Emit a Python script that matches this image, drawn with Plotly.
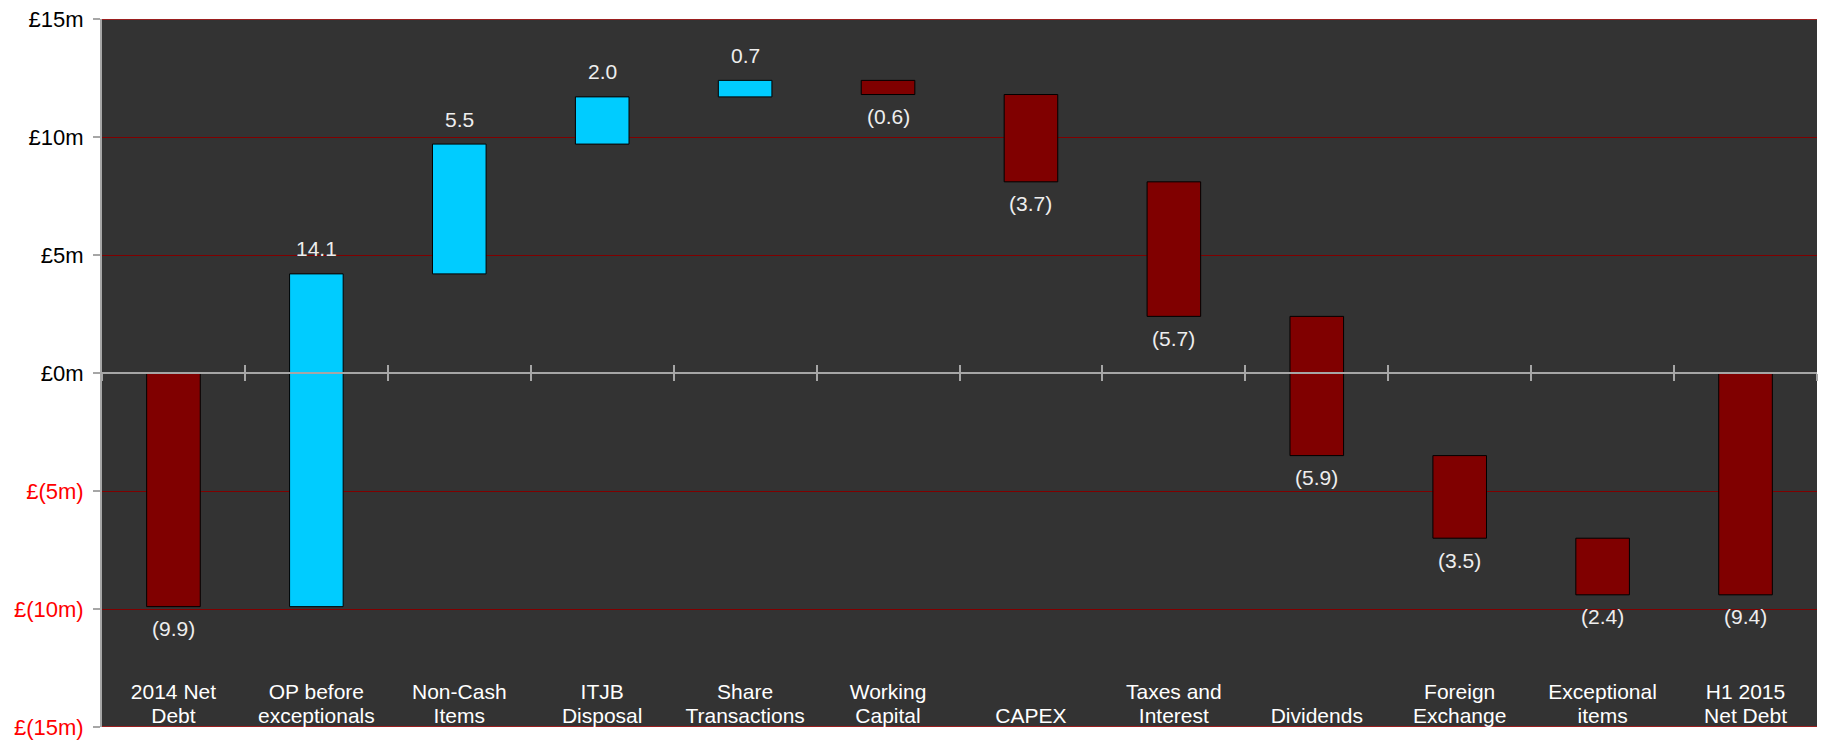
import plotly.graph_objects as go

# ---- data ----
categories = ["2014 Net Debt", "OP before exceptionals", "Non-Cash Items", "ITJB Disposal",
              "Share Transactions", "Working Capital", "CAPEX", "Taxes and Interest",
              "Dividends", "Foreign Exchange", "Exceptional items", "H1 2015 Net Debt"]
label_line1 = ["2014 Net", "OP before", "Non-Cash", "ITJB", "Share", "Working", "",
               "Taxes and", "", "Foreign", "Exceptional", "H1 2015"]
label_line2 = ["Debt", "exceptionals", "Items", "Disposal", "Transactions", "Capital", "CAPEX",
               "Interest", "Dividends", "Exchange", "items", "Net Debt"]
changes = [-9.9, 14.1, 5.5, 2.0, 0.7, -0.6, -3.7, -5.7, -5.9, -3.5, -2.4, -9.4]
is_total = [True, False, False, False, False, False, False, False, False, False, False, True]
y_tickvals = [15, 10, 5, 0, -5, -10, -15]
y_ticktext = ["£15m", "£10m", "£5m", "£0m",
              "<span style='color:#FF0000'>£(5m)</span>",
              "<span style='color:#FF0000'>£(10m)</span>",
              "<span style='color:#FF0000'>£(15m)</span>"]

# ---- derived ----
bases, ends = [], []
running = 0.0
for v, tot in zip(changes, is_total):
    b = 0.0 if tot else running
    bases.append(b)
    running = b + v
    ends.append(running)

MAROON = "#800000"
CYAN = "#00CCFF"
colors = [CYAN if v > 0 else MAROON for v in changes]
labels = [f"{v:.1f}" if v > 0 else f"({abs(v):.1f})" for v in changes]

FONT = "Liberation Sans, Arial, sans-serif"
FS = 21
n = len(categories)
y_min, y_max = min(y_tickvals), max(y_tickvals)

fig = go.Figure()
fig.add_trace(go.Bar(
    x=categories, y=changes, base=bases,
    marker=dict(color=colors, line=dict(color="#000000", width=1)),
    showlegend=False, hoverinfo="skip", xaxis="x", yaxis="y",
))
fig.add_trace(go.Scatter(
    x=categories, y=[-13.58] * n, text=label_line1, mode="text",
    textposition="middle center", textfont=dict(family=FONT, size=FS, color="#FFFFFF"),
    cliponaxis=True, showlegend=False, hoverinfo="skip", xaxis="x2", yaxis="y",
))
fig.add_trace(go.Scatter(
    x=categories, y=[-14.62] * n, text=label_line2, mode="text",
    textposition="middle center", textfont=dict(family=FONT, size=FS, color="#FFFFFF"),
    cliponaxis=True, showlegend=False, hoverinfo="skip", xaxis="x2", yaxis="y",
))

for c, v, e, t in zip(categories, changes, ends, labels):
    top = max(e, e - v)
    bot = min(e, e - v)
    fig.add_annotation(
        x=c, y=top if v > 0 else bot, xref="x", yref="y", text=t, showarrow=False,
        yanchor="middle", yshift=25 if v > 0 else -22,
        font=dict(family=FONT, size=FS, color="#EEEEEE"),
    )

# red border gridlines at the range edges
for yv in (y_min, y_max):
    fig.add_shape(type="line", xref="paper", yref="y", x0=0, x1=1, y0=yv, y1=yv,
                  line=dict(color="#9A1F1F", width=2), layer="below")

axis_common = dict(
    type="category", categoryorder="array", categoryarray=categories,
    range=[-0.5, n - 0.5], autorange=False,
    anchor="free", position=0.5, showline=True, linecolor="#A6A6A6", linewidth=2,
    tickson="boundaries", ticklen=7, tickcolor="#A6A6A6", tickwidth=2,
    showticklabels=False, showgrid=False, zeroline=False, automargin=False,
)

fig.update_layout(
    width=1822, height=742,
    margin=dict(l=102, r=5, t=19, b=15, autoexpand=False),
    paper_bgcolor="#FFFFFF", plot_bgcolor="#333333",
    bargap=0.625,
    font=dict(family=FONT, size=FS, color="#000000"),
    xaxis=dict(**axis_common, ticks="outside", domain=[0, 1]),
    xaxis2=dict(**axis_common, ticks="inside", overlaying="x", matches="x"),
    yaxis=dict(
        range=[y_min, y_max], tickvals=y_tickvals, ticktext=y_ticktext,
        showgrid=True, gridcolor="#800000", gridwidth=1, zeroline=False,
        showline=True, linecolor="#A6A6A6", linewidth=2,
        ticks="outside", ticklen=7, tickcolor="#A6A6A6", tickwidth=2,
        ticklabelstandoff=5, automargin=False,
        tickfont=dict(family=FONT, size=22, color="#000000"),
        fixedrange=True,
    ),
)

fig.write_html("out.html")
